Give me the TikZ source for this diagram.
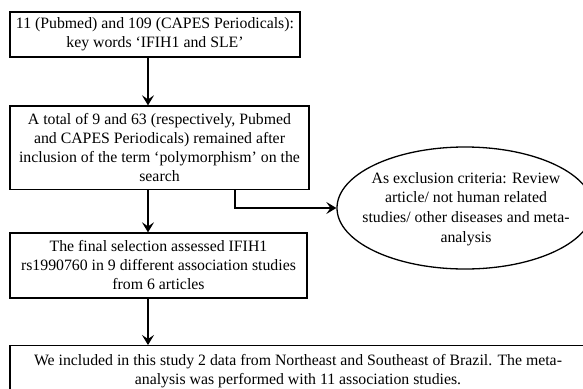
\documentclass[tikz,border=0pt]{standalone}
\usepackage{fontspec}
\setmainfont{Liberation Serif}
\usetikzlibrary{arrows.meta,shapes.geometric}
\begin{document}
\begin{tikzpicture}[x=1pt,y=-1pt,
  box/.style={draw,line width=1.3pt,rectangle,align=center,inner sep=0pt,
    font=\fontsize{15.8}{19}\selectfont},
  ell/.style={draw,line width=1.3pt,ellipse,inner sep=0pt,align=center,
    font=\fontsize{15.8}{19.7}\selectfont},
  arr/.style={line width=2.4pt,-{Stealth[length=10pt,width=12pt,inset=4pt]}}]
\useasboundingbox (0,0) rectangle (583,388);
\begin{scope}
\clip (0,0) rectangle (583,388);
\node[box,minimum width=290pt,minimum height=45pt] (b1) at (155,34.5)
  {11 (Pubmed) and 109 (CAPES Periodicals):\\ key words ‘IFIH1 and SLE’};
\node[box,minimum width=299pt,minimum height=83.5pt] (b2) at (159.5,147.75)
  {A total of 9 and 63 (respectively, Pubmed\\ and CAPES Periodicals) remained after\\ inclusion of the term ‘polymorphism’ on the\\ search};
\node[box,minimum width=297pt,minimum height=65pt] (b3) at (158.5,265.5)
  {The final selection assessed IFIH1\\ rs1990760 in 9 different association studies\\ from 6 articles};
\node[box,anchor=north,minimum width=576pt,inner ysep=9pt,
  font=\fontsize{15.8}{18.5}\selectfont] (b4) at (298,345)
  {We included in this study 2 data from Northeast and Southeast of Brazil. The meta-\\ analysis was performed with 11 association studies.};
\node[ell,minimum width=256pt,minimum height=122pt] (e) at (465,208) {};
\node[align=center,inner sep=0pt,font=\fontsize{15.8}{19.7}\selectfont] (et) at (466,209)
  {As exclusion criteria: Review\\ article/ not human related\\ studies/ other diseases and meta-\\ analysis};
\coordinate (ax) at (148,0);
\coordinate (ex) at (235,0);
\draw[arr] (b1.south -| ax) -- (b2.north -| ax);
\draw[arr] (b2.south -| ax) -- (b3.north -| ax);
\draw[arr] (b3.south -| ax) -- (b4.north -| ax);
\draw[arr] (b2.south -| ex) |- (e.west);
\end{scope}
\end{tikzpicture}
\end{document}
